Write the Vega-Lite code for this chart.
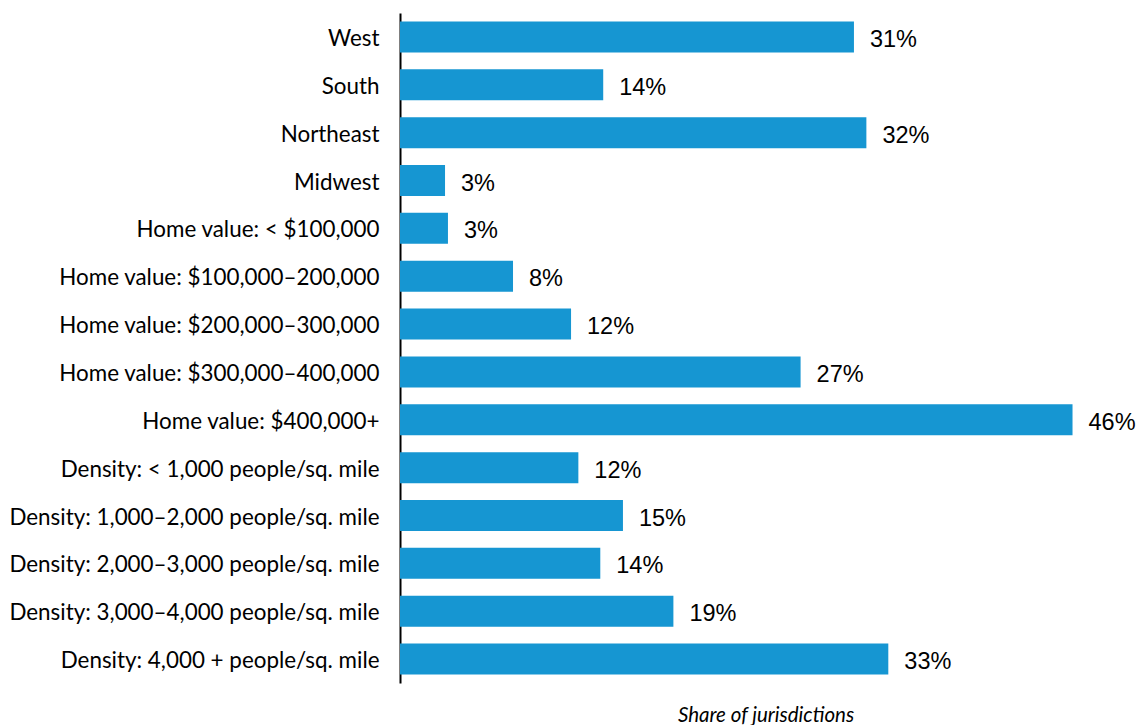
{
  "$schema": "https://vega.github.io/schema/vega-lite/v6.json",
  "autosize": {"type": "none"},
  "padding": {"left": 400, "top": 13, "right": 7, "bottom": 42},
  "width": 731,
  "height": 670,
  "background": "white",
  "config": {"view": {"stroke": null}, "font": "Lato"},
  "data": {"values": [
    {"group": "West", "value": 31.05, "label": "31%"},
    {"group": "South", "value": 13.9, "label": "14%"},
    {"group": "Northeast", "value": 31.9, "label": "32%"},
    {"group": "Midwest", "value": 3.08, "label": "3%"},
    {"group": "Home value: < $100,000", "value": 3.28, "label": "3%"},
    {"group": "Home value: $100,000–200,000", "value": 7.73, "label": "8%"},
    {"group": "Home value: $200,000–300,000", "value": 11.7, "label": "12%"},
    {"group": "Home value: $300,000–400,000", "value": 27.4, "label": "27%"},
    {"group": "Home value: $400,000+", "value": 46.0, "label": "46%"},
    {"group": "Density: < 1,000 people/sq. mile", "value": 12.2, "label": "12%"},
    {"group": "Density: 1,000–2,000 people/sq. mile", "value": 15.25, "label": "15%"},
    {"group": "Density: 2,000–3,000 people/sq. mile", "value": 13.7, "label": "14%"},
    {"group": "Density: 3,000–4,000 people/sq. mile", "value": 18.7, "label": "19%"},
    {"group": "Density: 4,000 + people/sq. mile", "value": 33.4, "label": "33%"}
  ]},
  "encoding": {
    "y": {
      "field": "group", "type": "nominal", "sort": null,
      "scale": {"paddingInner": 0.352, "paddingOuter": 0.176},
      "axis": {
        "title": null, "ticks": false, "domainColor": "#000000", "domainWidth": 2,
        "labelFontSize": 22.4, "labelColor": "#000000", "labelPadding": 21, "labelOffset": 2,
        "labelFont": "Lato", "labelFontWeight": "normal", "labelLimit": 400
      }
    },
    "x": {
      "field": "value", "type": "quantitative",
      "scale": {"domain": [0, 50], "nice": false},
      "axis": {
        "title": "Share of jurisdictions", "titleFont": "Lato", "titleFontStyle": "italic",
        "titleFontWeight": "normal", "titleFontSize": 20.5, "titleColor": "#000000",
        "titlePadding": 22, "labels": false, "ticks": false, "domain": false, "grid": false
      }
    }
  },
  "layer": [
    {"mark": {"type": "bar", "color": "#1696d2"}},
    {"mark": {"type": "text", "align": "left", "baseline": "middle", "dx": 16, "dy": 3, "fontSize": 23.5, "fontWeight": "normal", "font": "Arial", "color": "#000000"},
     "encoding": {"text": {"field": "label"}}}
  ]
}
